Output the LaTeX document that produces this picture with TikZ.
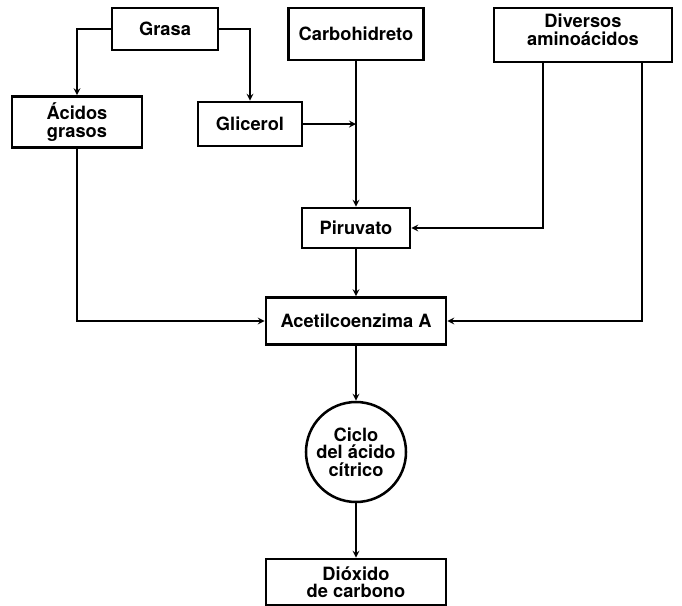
\documentclass[tikz,border=0pt]{standalone}
\usepackage{fontspec}
\setsansfont{TeX Gyre Heros}
\usepackage{tikz}
\usetikzlibrary{shapes,arrows,positioning,calc}

\begin{document}
\begin{tikzpicture}[
    box/.style={draw, line width=1.8pt, text centered, inner sep=2pt, font=\sffamily\bfseries\fontsize{13}{15.5}\selectfont},
    arrow/.style={->, >=stealth, line width=1.2pt}
]

  \useasboundingbox (0,0) rectangle (17.05,-15.15);

  % Top row: sources
  \node[box, minimum width=2.65cm, minimum height=1.05cm] (grasa) at (4.125,-0.725) {Grasa};
  \node[box, minimum width=3.375cm, minimum height=1.3cm] (carbo) at (8.9,-0.85) {Carbohidreto};
  \node[box, minimum width=4.45cm, minimum height=1.35cm, align=center] (amino) at (14.575,-0.875) {Diversos\\[-3pt]aminoácidos\\[-8pt]};

  % Second row: products of the fat
  \node[box, minimum width=3.25cm, minimum height=1.275cm, align=center] (acidos) at (1.925,-3.05) {Ácidos\\[-3pt]grasos};
  \node[box, minimum width=2.6cm, minimum height=1.1cm] (glicerol) at (6.25,-3.1) {Glicerol};

  % Middle column
  \node[box, minimum width=2.7cm, minimum height=1.0cm] (piruvato) at (8.9,-5.7) {Piruvato};
  \node[box, minimum width=4.5cm, minimum height=1.175cm] (acetil) at (8.9,-8.025) {Acetilcoenzima A};
  \node[box, circle, minimum size=2.5cm, align=center, inner sep=0pt] (ciclo) at (8.9,-11.3) {Ciclo\\[-3pt]del ácido\\[-3pt]cítrico};
  \node[box, minimum width=4.5cm, minimum height=1.15cm, align=center] (dioxido) at (8.9,-14.55) {Dióxido\\[-3pt]de carbono};

  % Connections
  \draw[arrow] (grasa.west) -| (acidos.north);
  \draw[arrow] (grasa.east) -| (glicerol.north);
  \draw[arrow] (carbo.south) -- (piruvato.north);
  \draw[arrow] (glicerol.east) -- (glicerol.east -| carbo.south);
  \draw[arrow] ([xshift=-1cm]amino.south) |- (piruvato.east);
  \draw[arrow] ([xshift=1.475cm]amino.south) |- (acetil.east);
  \draw[arrow] (acidos.south) |- (acetil.west);
  \draw[arrow] (piruvato) -- (acetil);
  \draw[arrow] (acetil) -- (ciclo);
  \draw[arrow] (ciclo) -- (dioxido);

\end{tikzpicture}
\end{document}
